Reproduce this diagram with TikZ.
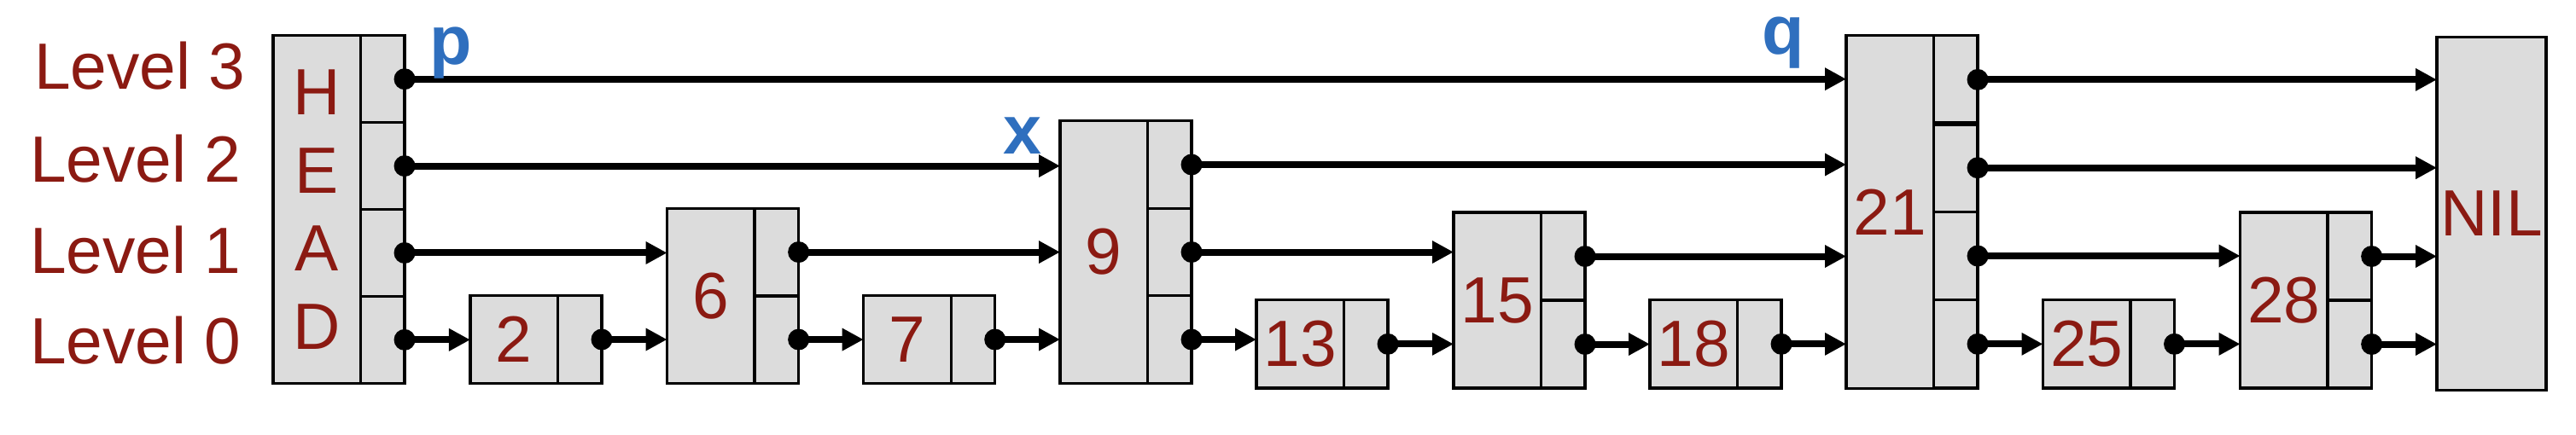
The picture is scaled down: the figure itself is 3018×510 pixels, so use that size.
\documentclass[tikz,border=0pt]{standalone}
\usepackage{fontspec}
\setmainfont{Liberation Sans}
\usetikzlibrary{arrows.meta,calc}
\definecolor{valred}{HTML}{8B1A12}
\definecolor{ptrblue}{HTML}{2F6FBE}
\definecolor{boxfill}{HTML}{DCDCDC}
\tikzset{
  boxline/.style={draw=black, line width=0.033cm, fill=boxfill},
  valbox/.style={boxline, rectangle, inner sep=0pt, outer sep=0pt, minimum width=1.025cm,
    text=valred, font=\fontsize{21.8pt}{26.1pt}\selectfont, align=center},
  ptrbox/.style={boxline, rectangle, inner sep=0pt, outer sep=0pt, minimum width=0.515cm},
  conn/.style={line width=0.08cm, -{Triangle[length=0.25cm, width=0.25cm]}},
  ptrdot/.style={fill=black},
  levellabel/.style={inner sep=0pt, anchor=base west, text=valred, font=\fontsize{21.8pt}{26.1pt}\selectfont},
  varlabel/.style={inner sep=0pt, anchor=base, text=ptrblue, font=\fontsize{23pt}{27pt}\selectfont\bfseries},
}
% #1 name, #2 left x, #3 top y, #4 bottom y, #5 top level index, #6 label
\newcommand\tower[6]{%
  \pgfmathsetmacro\towh{(#4-#3)/100}%
  \pgfmathsetmacro\rowh{(#4-#3)/(#5+1)}%
  \pgfmathsetmacro\rowhcm{\rowh/100}%
  \node[valbox, minimum height=\towh cm, anchor=north west] (#1) at (#2,#3) {#6};
  \foreach \L in {0,...,#5} {
    \node[ptrbox, minimum height=\rowhcm cm, anchor=north west] (#1l\L) at ({#2+102.5}, {#4-(\L+1)*\rowh}) {};
  }
}
\newcommand\ptrdots[2]{% #1 name, #2 top level
  \foreach \L in {0,...,#2} { \fill[ptrdot] (#1l\L.east) circle[radius=0.125cm]; }
}
\begin{document}
\begin{tikzpicture}[x=0.01cm, y=-0.01cm]
\useasboundingbox (0,0) rectangle (3018,510);

% level labels
\node[levellabel] (lv3) at (39.5,105) {Level 3};
\node[levellabel] (lv2) at (34.5,213.3) {Level 2};
\node[levellabel] (lv1) at (34.5,320.7) {Level 1};
\node[levellabel] (lv0) at (34.5,426.7) {Level 0};

% towers
\tower{head}{320}{41.7}{449.3}{3}{H\\E\\A\\D}
\tower{n2}{551}{346.7}{449.3}{0}{2}
\tower{n6}{781.6}{244.3}{449.3}{1}{6}
\tower{n7}{1011.7}{346.7}{449.3}{0}{7}
\tower{n9}{1242}{141.7}{449.3}{2}{9}
\tower{n13}{1472}{351.7}{455}{0}{13}
\tower{n15}{1703}{249}{455}{1}{15}
\tower{n18}{1933}{351.7}{455}{0}{18}
\tower{n21}{2163}{41.7}{455}{3}{21}
\tower{n25}{2393.5}{351.7}{455}{0}{25}
\tower{n28}{2624.6}{249}{455}{1}{28}
\node[valbox, minimum width=1.28cm, minimum height=4.14cm, anchor=north west] (nil) at (2855,43.3) {NIL};
% thicker divider in node 21
\draw[line width=0.065cm] (n21l3.south west) -- (n21l3.south east);

% connectors level 3
\draw[conn] (headl3.east) -- (n21.west |- headl3.east);
\draw[conn] (n21l3.east) -- (nil.west |- n21l3.east);
% level 2
\draw[conn] (headl2.east) -- (n9.west |- headl2.east);
\draw[conn] (n9l2.east) -- (n21.west |- n9l2.east);
\draw[conn] (n21l2.east) -- (nil.west |- n21l2.east);
% level 1
\draw[conn] (headl1.east) -- (n6.west |- headl1.east);
\draw[conn] (n6l1.east) -- (n9.west |- n6l1.east);
\draw[conn] (n9l1.east) -- (n15.west |- n9l1.east);
\draw[conn] (n15l1.east) -- (n21.west |- n15l1.east);
\draw[conn] (n21l1.east) -- (n28.west |- n21l1.east);
\draw[conn] (n28l1.east) -- (nil.west |- n28l1.east);
% level 0
\draw[conn] (headl0.east) -- (n2.west |- headl0.east);
\draw[conn] (n2l0.east) -- (n6.west |- n2l0.east);
\draw[conn] (n6l0.east) -- (n7.west |- n6l0.east);
\draw[conn] (n7l0.east) -- (n9.west |- n7l0.east);
\draw[conn] (n9l0.east) -- (n13.west |- n9l0.east);
\draw[conn] (n13l0.east) -- (n15.west |- n13l0.east);
\draw[conn] (n15l0.east) -- (n18.west |- n15l0.east);
\draw[conn] (n18l0.east) -- (n21.west |- n18l0.east);
\draw[conn] (n21l0.east) -- (n25.west |- n21l0.east);
\draw[conn] (n25l0.east) -- (n28.west |- n25l0.east);
\draw[conn] (n28l0.east) -- (nil.west |- n28l0.east);

% dots
\ptrdots{head}{3}
\ptrdots{n2}{0}
\ptrdots{n6}{1}
\ptrdots{n7}{0}
\ptrdots{n9}{2}
\ptrdots{n13}{0}
\ptrdots{n15}{1}
\ptrdots{n18}{0}
\ptrdots{n21}{3}
\ptrdots{n25}{0}
\ptrdots{n28}{1}

% pointer variable labels
\node[varlabel] (p) at (528.5,75.5) {p};
\node[varlabel] (x) at (1198,181) {x};
\node[varlabel] (q) at (2089.5,64) {q};
\end{tikzpicture}
\end{document}
